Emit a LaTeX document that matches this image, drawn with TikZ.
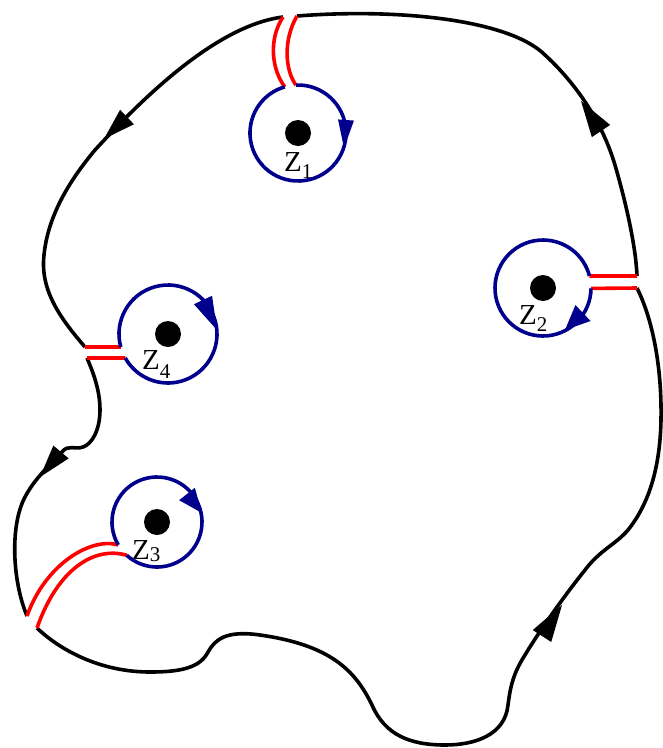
\documentclass[tikz,border=0pt]{standalone}
\usepackage{fontspec}
\setmainfont{Liberation Serif}
\usetikzlibrary{calc}
\definecolor{navy}{RGB}{0,0,140}
\newcommand{\ahead}[4][black]{\fill[#1] ($(#3)!#4!90:(#2)$) -- (#2) -- ($(#3)!#4!-90:(#2)$) -- cycle;}
\newcommand{\zlab}[2]{Z\raisebox{#2}{\fontsize{21}{21}\selectfont #1}}
\begin{document}
\begin{tikzpicture}[x=1pt,y=-1pt,
  contour/.style={line width=3.6pt,black},
  cut/.style={line width=3.6pt,red},
  loop/.style={line width=3.6pt,navy},
  lab/.style={anchor=base west,inner sep=0pt,font=\fontsize{29}{29}\selectfont}]
\useasboundingbox (0,0) rectangle (663,748);
% centres
\coordinate (c1) at (298,133);
\coordinate (c2) at (543,288);
\coordinate (c3) at (157,522);
\coordinate (c4) at (168,334);
% points on circles
\coordinate (z1a) at ($(c1)+(-92.5:48)$);
\coordinate (z1b) at ($(c1)+(254:48)$);
\coordinate (z2a) at ($(c2)+(-14.5:48)$);
\coordinate (z2b) at ($(c2)+(0.5:48)$);
\coordinate (z3a) at ($(c3)+(149.5:45)$);
\coordinate (z3b) at ($(c3)+(132.3:45)$);
\coordinate (z4a) at ($(c4)+(164.6:49)$);
\coordinate (z4b) at ($(c4)+(150.7:49)$);
% cut ends on contour
\coordinate (o1l) at (283,17);
\coordinate (o1r) at (297,16);
\coordinate (o2t) at (637,276);
\coordinate (o2b) at (637,288);
\coordinate (o3u) at (27,616);
\coordinate (o3l) at (37,628);
\coordinate (o4u) at (85,347);
\coordinate (o4l) at (87,358);
% outer contour
\draw[contour] (o1r) .. controls (400,8) and (510,20) .. (545,55)
  .. controls (570,78) and (600,115) .. (615,165)
  .. controls (628,210) and (636,250) .. (o2t);
\draw[contour] (o2b) .. controls (652,318) and (662,365) .. (661,420)
  .. controls (660,470) and (648,505) .. (628,530)
  .. controls (615,545) and (600,550) .. (585,570)
  .. controls (565,595) and (540,630) .. (525,655)
  .. controls (512,675) and (510,690) .. (508,705)
  .. controls (505,735) and (475,745) .. (445,745)
  .. controls (410,745) and (385,735) .. (372,705)
  .. controls (355,670) and (330,645) .. (260,635)
  .. controls (225,630) and (215,640) .. (208,652)
  .. controls (200,668) and (180,672) .. (150,672)
  .. controls (100,672) and (60,650) .. (o3l);
\draw[contour] (o3u) .. controls (12,580) and (10,525) .. (25,497)
  .. controls (35,478) and (50,465) .. (62,452)
  .. controls (68,444) and (75,450) .. (83,447)
  .. controls (92,444) and (100,430) .. (100,410)
  .. controls (100,390) and (93,372) .. (o4l);
\draw[contour] (o4u) .. controls (60,318) and (40,290) .. (44,255)
  .. controls (48,215) and (70,180) .. (95,150)
  .. controls (150,90) and (220,25) .. (o1l);
% outer arrowheads
\ahead{581,101}{601,131}{11pt}
\ahead{562,605}{542,636}{11pt}
\ahead{40,477}{61,452}{10pt}
\ahead{104,139}{127,117}{10pt}
% cuts
\draw[cut] (o1l) .. controls (268,40) and (272,70) .. (z1b);
\draw[cut] (o1r) .. controls (283,40) and (285,70) .. (z1a);
\draw[cut] (z2a) -- (o2t);
\draw[cut] (z2b) -- (o2b);
\draw[cut] (z3a) .. controls (90,537) and (45,565) .. (o3u);
\draw[cut] (z3b) .. controls (95,546) and (58,568) .. (o3l);
\draw[cut] (o4u) -- (z4a);
\draw[cut] (o4l) -- (z4b);
% loops
\draw[loop] (z1a) arc[start angle=-92.5,end angle=254,radius=48];
\draw[loop] (z2b) arc[start angle=0.5,end angle=345.5,radius=48];
\draw[loop] (z3a) arc[start angle=149.5,end angle=492.3,radius=45];
\draw[loop] (z4a) arc[start angle=164.6,end angle=510.7,radius=49];
\ahead[navy]{344,148}{346,120}{8pt}
\ahead[navy]{565,330}{583,313}{11pt}
\ahead[navy]{217,330}{203,300}{10pt}
\ahead[navy]{202,513}{187,494}{10pt}
% dots
\fill (c1) circle[radius=13];
\fill (c2) circle[radius=13];
\fill (c3) circle[radius=13];
\fill (c4) circle[radius=13];
% labels
\node[lab] (l1) at (284,171) {\zlab{1}{-7pt}};
\node[lab] (l2) at (519,324) {\zlab{2}{-7pt}};
\node[lab] (l3) at (132,559) {\zlab{3}{-2pt}};
\node[lab] (l4) at (142,369) {\zlab{4}{-9pt}};
\end{tikzpicture}
\end{document}
